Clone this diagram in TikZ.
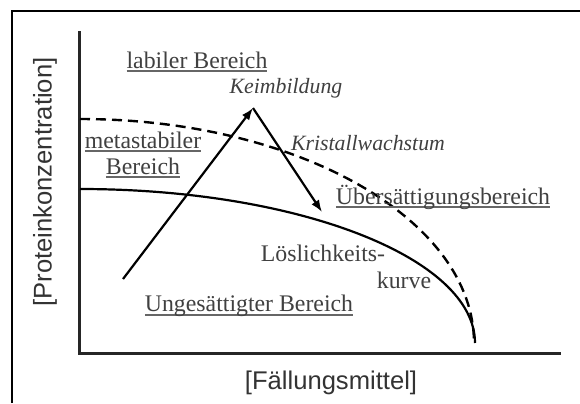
\documentclass[tikz,border=0pt]{standalone}
\usepackage{fontspec}
\setmainfont{Liberation Serif}
\setsansfont{Liberation Sans}
\usetikzlibrary{arrows.meta}

% unterstrichener Bereichsname (Linie grau, Text dunkel)
\newcommand{\bereichtext}[1]{%
  \setbox0\hbox{#1}%
  \rlap{\color{black!60}\rule[-2.2pt]{\wd0}{1pt}}\box0}

\tikzset{
  bereich/.style={text=black!75, font=\fontsize{11.9}{13}\selectfont, inner sep=0pt},
  prozess/.style={text=black!75, font=\fontsize{10.9}{12}\selectfont\itshape, inner sep=0pt},
  achsentext/.style={text=black!80, font=\sffamily\fontsize{12.8}{14}\selectfont, inner sep=0pt},
  pfeil/.style={line width=1.1pt, -{Latex[length=6pt,width=4.5pt]}},
}

\begin{document}
\begin{tikzpicture}[x=0.5pt, y=-0.5pt, line join=miter]
  \useasboundingbox (0,0) rectangle (580,403);

  % ==========================================
  % RAHMEN UND ACHSEN
  % ==========================================
  \draw[line width=0.9pt] (12,403) -- (12,11) -- (580,11);
  \draw[line width=1.5pt, black!85] (79,31) -- (79,353) -- (561,353);

  % Achsenbeschriftungen
  \node[achsentext, rotate=90] (yachse) at (45,182) {[Proteinkonzentration]};
  \node[achsentext] (xachse) at (331,383) {[Fällungsmittel]};

  % ==========================================
  % KURVEN
  % ==========================================
  % Löslichkeitskurve (durchgezogen)
  \draw[line width=1.1pt] (80,189) arc[start angle=-90, end angle=0, x radius=395, y radius=154];

  % Grenze metastabil / labil (gestrichelt)
  \draw[line width=1.2pt, dash pattern=on 5pt off 3pt] (80,119) arc[start angle=-90, end angle=0, x radius=394, y radius=224];

  % ==========================================
  % PFEILE: Keimbildung und Kristallwachstum
  % ==========================================
  \coordinate (start) at (123,279);
  \coordinate (keim) at (253,108);
  \coordinate (ziel) at (322,212);
  \draw[pfeil] (start) -- (keim);
  \draw[pfeil] (keim) -- (ziel);

  % ==========================================
  % BEREICHE
  % ==========================================
  \node[bereich] (labil) at (197,62) {\bereichtext{labiler Bereich}};
  \node[prozess] (keimbildung) at (286,88) {Keimbildung};
  \node[bereich, align=center] (metastabil) at (143,155) {\bereichtext{metastabiler}\\\bereichtext{Bereich}};
  \node[prozess] (kristall) at (368,143) {Kristallwachstum};
  \node[bereich] (uebersaett) at (443,197) {\bereichtext{Übersättigungsbereich}};
  \node[bereich] (loeslich) at (323,253) {Löslichkeits-};
  \node[bereich] (kurve) at (404,280) {kurve};
  \node[bereich] (ungesaett) at (249,306) {\bereichtext{Ungesättigter Bereich}};

\end{tikzpicture}
\end{document}
